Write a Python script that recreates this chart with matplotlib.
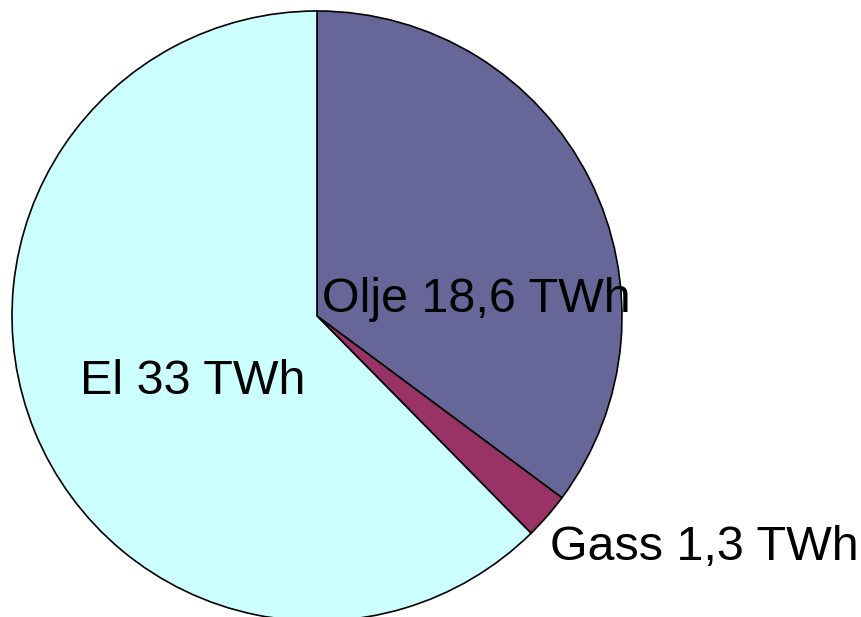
import matplotlib
matplotlib.use('Agg')
import matplotlib.pyplot as plt

# energy use by source
sources = ['Olje', 'Gass', 'El']
values = [18.6, 1.3, 33]
value_text = ['18,6', '1,3', '33']
colors = ['#666699', '#993366', '#CCFFFF']

# label anchor (left edge, vertical centre), in pixels from top-left
label_pos = [(322, 300), (550, 548), (80, 382)]

W, H = 861, 617
fig = plt.figure(figsize=(W / 100, H / 100), dpi=100)
ax = fig.add_axes([0, 0, 1, 1])

cx, cy, r = 317, 316, 305
ax.pie(values, colors=colors, startangle=90, counterclock=False,
       center=(cx, H - cy), radius=r, frame=True,
       wedgeprops=dict(edgecolor='black', linewidth=1.2))
ax.set_xlim(0, W)
ax.set_ylim(0, H)
ax.set_aspect('equal')
ax.axis('off')

for name, txt, (x, y) in zip(sources, value_text, label_pos):
    ax.text(x, H - y, f'{name} {txt} TWh', fontsize=34.8, family='Liberation Sans',
            ha='left', va='center', color='black')

plt.savefig('out.png', dpi=100)
